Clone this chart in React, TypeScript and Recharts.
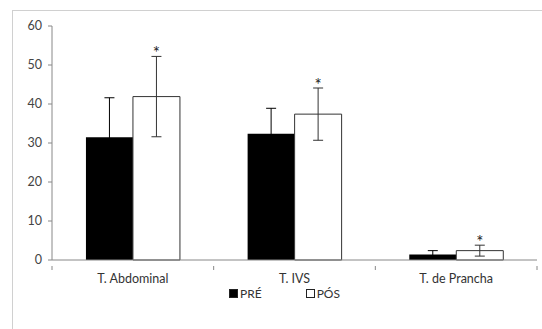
import React from 'react';
import { BarChart, Bar, XAxis, YAxis, ErrorBar, Legend, LabelList } from 'recharts';

const categories = ['T. Abdominal', 'T. IVS', 'T. de Prancha'];
const pre = [31.5, 32.4, 1.4];
const preErr = [10.1, 6.5, 1.0];
const pos = [41.9, 37.4, 2.4];
const posErr = [10.3, 6.7, 1.4];
const yTicks = [0, 10, 20, 30, 40, 50, 60];

const data = categories.map((name, i) => ({
  name,
  pre: pre[i],
  preErr: preErr[i],
  pos: pos[i],
  posErr: posErr[i],
}));

const font = 'Lato, "Open Sans", sans-serif';
const TICK_MARGIN = 8;

// category label + excel-style tick marks between categories
function CatTick(props: any) {
  const { x, y, payload, index } = props;
  const half = payload.offset || 0;
  const axisY = y - TICK_MARGIN;
  const last = index === categories.length - 1;
  return (
    <g>
      <line x1={x - half} x2={x - half} y1={axisY} y2={axisY + 4} stroke="#888" />
      {last && <line x1={x + half} x2={x + half} y1={axisY} y2={axisY + 4} stroke="#888" />}
      <text x={x} y={y} dy="0.71em" textAnchor="middle" fill="#333" fontSize={12.5} fontFamily={font}>
        {payload.value}
      </text>
    </g>
  );
}

// asterisk above the upper error cap of each PÓS bar
function Star(props: any) {
  const { x, y, width, height, index } = props;
  const d = data[index];
  const pxPerUnit = height / d.pos;
  const top = y - d.posErr * pxPerUnit;
  return (
    <text x={x + width / 2} y={top + 3} textAnchor="middle" fontSize={17} fontFamily={font} fill="#222">
      *
    </text>
  );
}

function LegendBox() {
  const item = (fill: string, label: string) => (
    <span style={{ display: 'inline-flex', alignItems: 'center', margin: '0 22px' }}>
      <span style={{ width: 9, height: 9, background: fill, border: '1px solid #222', marginRight: 2, boxSizing: 'border-box' }} />
      <span>{label}</span>
    </span>
  );
  return (
    <div style={{ textAlign: 'center', fontFamily: font, fontSize: 12, color: '#333', paddingLeft: 10 }}>
      {item('#000', 'PRÉ')}
      {item('#fff', 'PÓS')}
    </div>
  );
}

export default function App() {
  return (
    <div style={{ position: 'fixed', left: 0, top: 0, width: 542, height: 329, overflow: 'hidden', background: '#fff' }}>
      <div style={{ position: 'absolute', left: 12, top: 10, width: 600, height: 400, border: '1px solid #d0d0d0' }} />
      <div style={{ position: 'absolute', left: 0, top: 0 }}>
        <BarChart
          width={542}
          height={329}
          data={data}
          margin={{ top: 26, right: 5, left: 22, bottom: 15 }}
          barGap={0}
          barCategoryGap="21%"
        >
          <XAxis
            dataKey="name"
            axisLine={{ stroke: '#888' }}
            tickLine={false}
            tickMargin={TICK_MARGIN}
            height={30}
            tick={<CatTick />}
          />
          <YAxis
            domain={[0, 60]}
            ticks={yTicks}
            width={30}
            axisLine={{ stroke: '#888' }}
            tickLine={{ stroke: '#888' }}
            tickSize={4}
            tickMargin={6}
            tick={{ fill: '#444', fontSize: 12.5, fontFamily: font }}
          />
          <Legend height={24} content={<LegendBox />} wrapperStyle={{ top: 286 }} />
          <Bar dataKey="pre" name="PRÉ" fill="#000" isAnimationActive={false}>
            <ErrorBar dataKey="preErr" width={5} stroke="#000" strokeWidth={1} />
          </Bar>
          <Bar dataKey="pos" name="PÓS" fill="#fff" stroke="#333" strokeWidth={1} isAnimationActive={false}>
            <ErrorBar dataKey="posErr" width={5} stroke="#333" strokeWidth={1} />
            <LabelList dataKey="pos" content={<Star />} />
          </Bar>
        </BarChart>
      </div>
    </div>
  );
}
